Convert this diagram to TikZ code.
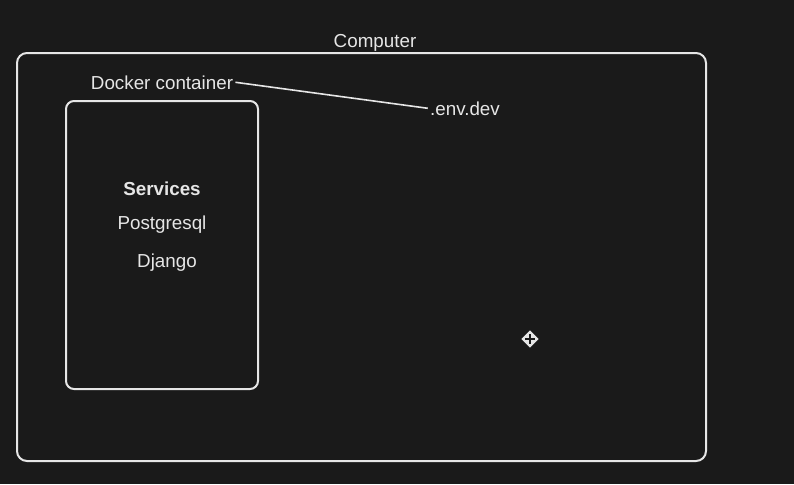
\documentclass[tikz,border=0pt]{standalone}
\usepackage{fontspec}
\setmainfont{Liberation Sans}
\usetikzlibrary{shapes,positioning,calc}
\definecolor{bg}{HTML}{1A1A1A}
\definecolor{ink}{HTML}{E6E6E6}
\tikzstyle{frame} = [rectangle, rounded corners=5pt, draw=ink, line width=1pt]
\tikzstyle{lbl} = [text=ink, font=\fontsize{9.4}{11}\selectfont, inner sep=1pt, anchor=base]

\begin{document}
\begin{tikzpicture}[x=0.5pt,y=-0.5pt]
				\fill[bg] (0,0) rectangle (794,484);
				\useasboundingbox (0,0) rectangle (794,484);
				\node[frame, minimum width=344.5pt, minimum height=204pt] (computer) at (361.5,257) {};
				\node[frame, rounded corners=4pt, minimum width=96pt, minimum height=144pt] (container) at (162,245) {};
				
				\node[lbl] (computerlbl) at (375,47) {Computer};
				\node[lbl] (docker) at (162,89) {Docker container};
				\node[lbl] (env) at (465,115) {.env.dev};
				\draw[ink, line width=0.8pt] (docker.east) -- (env.west);
				
				\node[lbl, font=\fontsize{9.4}{11}\selectfont\bfseries] (services) at (162,195) {Services};
				\node[lbl] (postgres) at (162,229) {Postgresql};
				\node[lbl] (django) at (167,267) {Django};
				
				\draw[ink, fill=ink] (530,331) -- (538,339) -- (530,347) -- (522,339) -- cycle;
				\draw[bg, line width=0.6pt] (525,339) -- (535,339) (530,334) -- (530,344);
			\end{tikzpicture}
\end{document}
